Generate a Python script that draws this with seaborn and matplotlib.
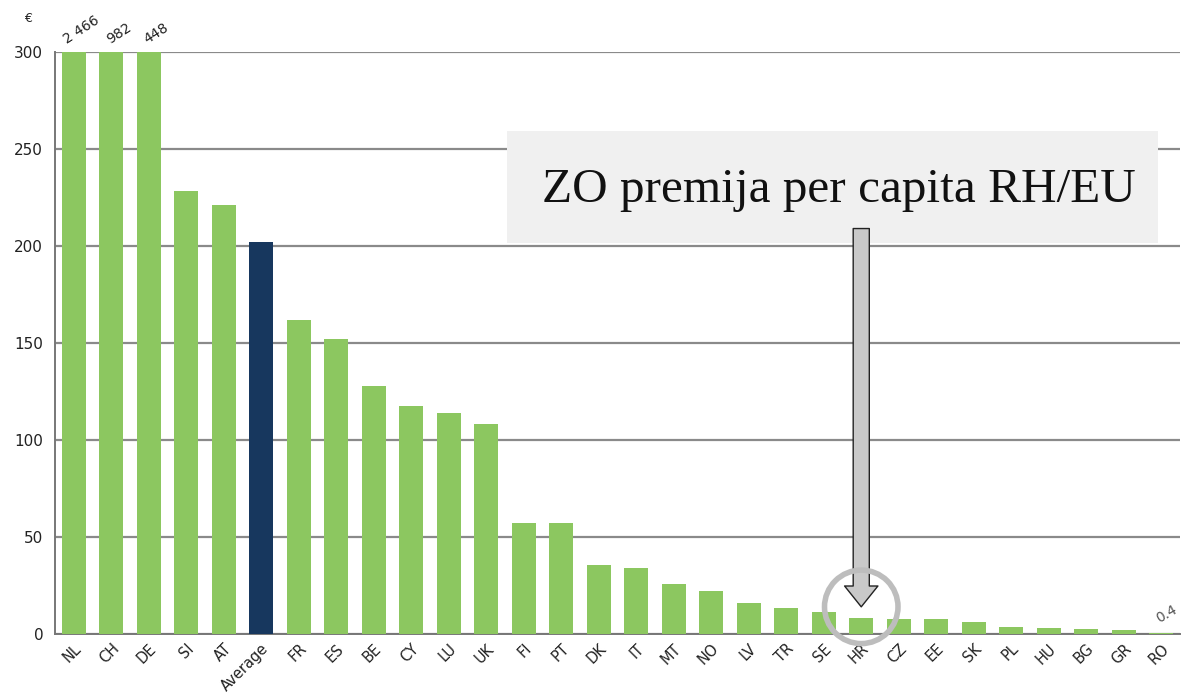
import matplotlib
matplotlib.use("Agg")
import matplotlib.pyplot as plt
import pandas as pd
import seaborn as sns
from matplotlib.patches import Rectangle

COUNTRIES = ["NL", "CH", "DE", "SI", "AT", "Average", "FR", "ES", "BE", "CY",
             "LU", "UK", "FI", "PT", "DK", "IT", "MT", "NO", "LV", "TR",
             "SE", "HR", "CZ", "EE", "SK", "PL", "HU", "BG", "GR", "RO"]
PREMIUM = [2466, 982, 448, 228.5, 221, 202, 162, 152, 128, 117.5,
           114, 108, 57, 57, 35.5, 34, 25.7, 22, 16, 13.4,
           11.2, 8.4, 7.6, 7.6, 6.3, 3.6, 3.1, 2.6, 2.0, 0.4]
CLIPPED_LABELS = {"NL": "2 466", "CH": "982", "DE": "448"}
YMAX = 300

GREEN = "#8cc760"
NAVY = "#17375e"
GRID = "#8a8a8a"

df = pd.DataFrame({"country": COUNTRIES, "premium": PREMIUM})
palette = {c: (NAVY if c == "Average" else GREEN) for c in COUNTRIES}

sns.set_theme(style="white")
plt.rcParams["font.family"] = ["DejaVu Sans"]

fig = plt.figure(figsize=(11.85, 6.95), dpi=100)
ax = fig.add_axes([55 / 1185, 1 - 634 / 695, 1125 / 1185, 582 / 695])

sns.barplot(data=df, x="country", y="premium", hue="country", palette=palette,
            legend=False, width=0.64, saturation=1, linewidth=0, ax=ax, zorder=3)

ax.set_ylim(0, YMAX)
ax.set_xlim(-0.5, len(COUNTRIES) - 0.5)
ax.set_yticks(range(0, 301, 50))
ax.yaxis.grid(True, color=GRID, linewidth=1.6, zorder=0)
ax.set_axisbelow(True)
ax.set_xlabel("")
ax.set_ylabel("")

for side in ["top", "right"]:
    ax.spines[side].set_visible(False)
for side in ["left", "bottom"]:
    ax.spines[side].set_color("#777777")
    ax.spines[side].set_linewidth(1.4)

ax.set_xticks([i - 0.5 for i in range(len(COUNTRIES) + 1)], minor=True)
ax.tick_params(axis="x", which="major", length=0, pad=5)
ax.tick_params(axis="x", which="minor", length=5, color="#777777", width=1.2, direction="out")
ax.tick_params(axis="y", length=5, color="#777777", width=1.2, labelsize=11, labelcolor="#222222")
ax.set_xticks(range(len(COUNTRIES)))
ax.set_xticklabels(COUNTRIES, rotation=45, ha="right", rotation_mode="anchor",
                   fontsize=10.5, color="#222222")

# values of bars running off the top
for i, c in enumerate(COUNTRIES):
    if c in CLIPPED_LABELS:
        ax.text(i + 0.2, YMAX + 3, CLIPPED_LABELS[c], rotation=33, ha="center",
                va="bottom", fontsize=10, color="#222222", clip_on=False)
ax.text(len(COUNTRIES) - 1 + 0.15, PREMIUM[-1] + 4, "0.4", rotation=30, ha="center",
        va="bottom", fontsize=10, color="#555555")

fig.text(28 / 1185, 1 - 18 / 695, "€", fontsize=9, ha="center", va="center", color="#222222")

# callout box
ax.add_patch(Rectangle((11.55, 201.7), 17.35, 57.7, facecolor="#f0f0f0",
                       edgecolor="none", zorder=4))
ax.text(20.4, 229, "ZO premija per capita RH/EU", fontsize=35.5, ha="center", va="center",
        family=["Liberation Serif"], color="#111111", zorder=5)

hr = COUNTRIES.index("HR")
ax.annotate("", xy=(hr, 14), xytext=(hr, 209),
            arrowprops=dict(arrowstyle="simple,head_length=0.75,head_width=1.2,tail_width=0.58",
                            fc="#c9c9c9", ec="#222222", lw=1.0, mutation_scale=20,
                            shrinkA=0, shrinkB=0),
            zorder=6)
ax.scatter([hr], [14], s=2800, facecolors="none", edgecolors="#bdbdbd",
           linewidths=4, zorder=7, clip_on=False)

fig.savefig("out.png", dpi=100)
